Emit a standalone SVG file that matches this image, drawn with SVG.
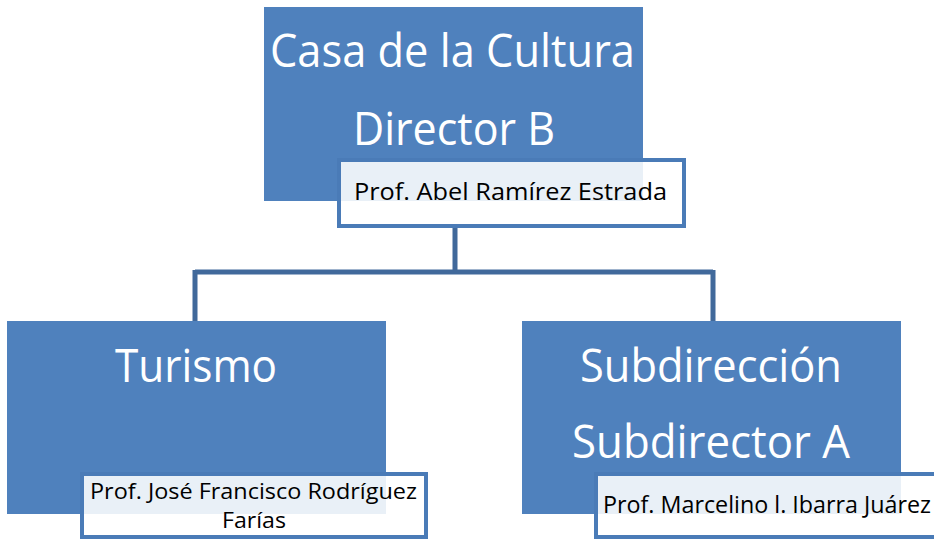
<svg xmlns="http://www.w3.org/2000/svg" width="934" height="540" viewBox="0 0 934 540">
<style>
.box{fill:#4f81bd}
.lbl{fill:#ffffff;fill-opacity:0.88;stroke:#4a7bb7;stroke-width:4}
.big{font-family:"Open Sans","Liberation Sans",sans-serif;font-size:45px;fill:#ffffff}
.sm{font-family:"Open Sans","Liberation Sans",sans-serif;font-size:24px;fill:#000000}
.sm2{font-family:"Open Sans","Liberation Sans",sans-serif;font-size:22px;fill:#000000}
.conn{fill:none;stroke:#41699b;stroke-width:5}
</style>
<rect width="934" height="540" fill="#ffffff"/>
<g id="connectors">
<path class="conn" d="M455,228 V272 M195,272 H713 M195,270 V321 M713,270 V321"/>
</g>
<g id="top">
<rect class="box" x="264" y="7" width="379" height="194"/>
<text class="big" x="270" y="67" textLength="365" lengthAdjust="spacingAndGlyphs">Casa de la Cultura</text>
<text class="big" x="353" y="145" textLength="202" lengthAdjust="spacingAndGlyphs">Director B</text>
<rect class="lbl" x="339" y="160" width="345" height="66"/>
<text class="sm" x="354" y="200" textLength="313" lengthAdjust="spacingAndGlyphs">Prof. Abel Ramírez Estrada</text>
</g>
<g id="turismo">
<rect class="box" x="7" y="321" width="379" height="193"/>
<text class="big" x="115" y="382" textLength="162" lengthAdjust="spacingAndGlyphs">Turismo</text>
<rect class="lbl" x="82" y="474" width="344" height="63"/>
<text class="sm2" x="90" y="499" textLength="327" lengthAdjust="spacingAndGlyphs">Prof. José Francisco Rodríguez</text>
<text class="sm2" x="254" y="528" text-anchor="middle" textLength="64" lengthAdjust="spacingAndGlyphs">Farías</text>
</g>
<g id="subdireccion">
<rect class="box" x="522" y="321" width="379" height="193"/>
<text class="big" x="580" y="382" textLength="262" lengthAdjust="spacingAndGlyphs">Subdirección</text>
<text class="big" x="572" y="458" textLength="278" lengthAdjust="spacingAndGlyphs">Subdirector A</text>
<rect class="lbl" x="596" y="474" width="350" height="63"/>
<text class="sm" x="603" y="513" textLength="328" lengthAdjust="spacingAndGlyphs">Prof. Marcelino l. Ibarra Juárez</text>
</g>
</svg>
